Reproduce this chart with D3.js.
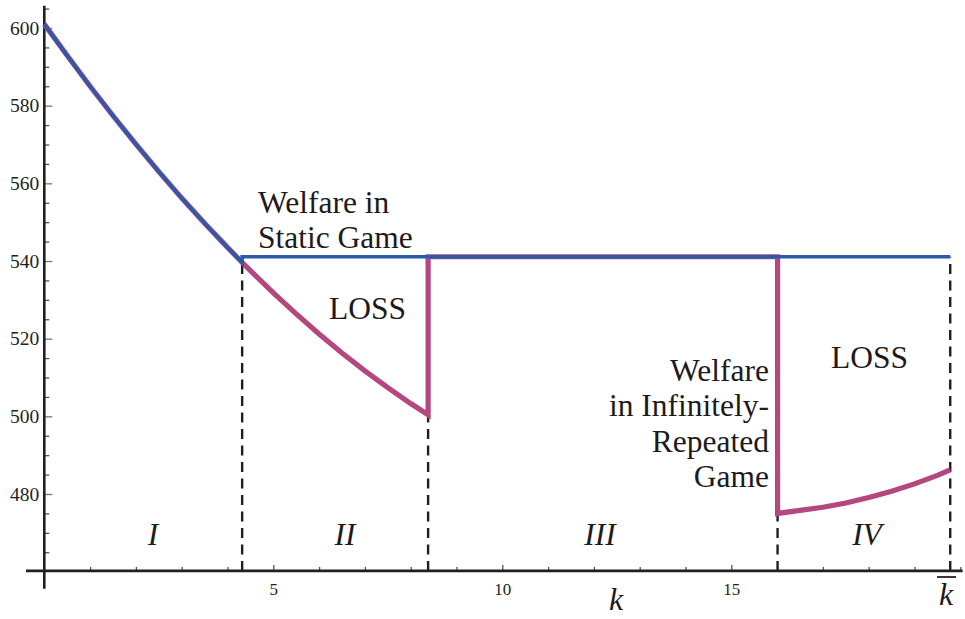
<!DOCTYPE html>
<html><head><meta charset="utf-8">
<script src="https://cdn.jsdelivr.net/npm/d3@7"></script>
<style>
body{margin:0;background:#fff}
svg{display:block}
</style>
</head><body>
<svg id="chart" width="965" height="619"></svg>
<script>
// ---- data ----
const xTicksMajor = [5, 10, 15];
const xTicksMinor = [1, 2, 3, 4, 6, 7, 8, 9, 11, 12, 13, 14, 16, 17, 18, 19, 20];
const yTicksMajor = [480, 500, 520, 540, 560, 580, 600];
const yTicksMinor = [465, 470, 475, 485, 490, 495, 505, 510, 515, 525, 530, 535, 545, 550, 555, 565, 570, 575, 585, 590, 595, 605];
const regimeBounds = [4.32, 8.38, 16.01, 19.78];
const regimeLabels = ["I", "II", "III", "IV"];
const staticWelfare = 541.1;
// welfare in infinitely-repeated game, region I (coincides with static)
const curveI = [[0, 601.0], [0.5, 592.9], [1, 585.0], [1.5, 577.4], [2, 570.1], [2.5, 563.0], [3, 556.2], [3.5, 549.7], [4, 543.5], [4.32, 539.6]];
// region II
const curveII = [[4.32, 539.6], [4.5, 537.5], [5, 531.8], [5.5, 526.4], [6, 521.2], [6.5, 516.3], [7, 511.7], [7.5, 507.4], [8, 503.3], [8.38, 500.4]];
// region IV
const curveIV = [[16.01, 475.0], [16.5, 475.8], [17, 476.6], [17.5, 477.7], [18, 479.1], [18.5, 480.7], [19, 482.6], [19.5, 484.8], [19.78, 486.2]];
const axisOriginY = 460.2;

const FONT = '"Liberation Serif", "Times New Roman", Times, "DejaVu Serif", serif';

// ---- scales ----
const x = d3.scaleLinear().domain([0, 20]).range([44.3, 960.3]);
const y = d3.scaleLinear().domain([480, 600]).range([494, 28]);
const svg = d3.select("#chart");
const y0 = y(axisOriginY);

// ---- axes ----
const axCol = "#231f20";
function styleAxis(g, col) {
  g.attr("font-family", null);
  g.select(".domain").remove();
  g.selectAll(".tick line").attr("stroke", col).attr("stroke-width", 1.3);
  g.selectAll(".tick text").attr("fill", "#231f20").attr("font-family", FONT).style("font-family", FONT);
}
const gyMinor = svg.append("g").attr("transform", `translate(${x(0)},0)`)
  .call(d3.axisLeft(y).tickValues(yTicksMinor).tickSize(-5).tickFormat(() => ""));
styleAxis(gyMinor, "#555");
const gy = svg.append("g").attr("transform", `translate(${x(0)},0)`)
  .call(d3.axisLeft(y).tickValues(yTicksMajor).tickSize(-8).tickPadding(5));
styleAxis(gy, "#777");
gy.selectAll(".tick text").style("font-size", "19.5px");

const gxMinor = svg.append("g").attr("transform", `translate(0,${y0})`)
  .call(d3.axisBottom(x).tickValues(xTicksMinor).tickSize(-4).tickFormat(() => ""));
styleAxis(gxMinor, "#555");
const gx = svg.append("g").attr("transform", `translate(0,${y0})`)
  .call(d3.axisBottom(x).tickValues(xTicksMajor).tickSize(-6).tickPadding(12));
styleAxis(gx, "#555");
gx.selectAll(".tick text").style("font-size", "17px");

// axis lines (extend past the origin as in the reference)
svg.append("line").attr("x1", x(-0.4)).attr("x2", x(20.05)).attr("y1", y0).attr("y2", y0)
  .attr("stroke", axCol).attr("stroke-width", 2.6);
svg.append("line").attr("x1", x(0)).attr("x2", x(0)).attr("y1", y(605.7)).attr("y2", y(455.6))
  .attr("stroke", axCol).attr("stroke-width", 2.6);

// ---- dashed regime boundaries ----
const dashTops = [curveI[curveI.length - 1][1], curveII[curveII.length - 1][1], curveIV[0][1], staticWelfare];
svg.append("g").selectAll("line").data(regimeBounds).join("line")
  .attr("x1", d => x(d)).attr("x2", d => x(d))
  .attr("y1", y0).attr("y2", (d, i) => y(dashTops[i]))
  .attr("stroke", "#231f20").attr("stroke-width", 2.4).attr("stroke-dasharray", "10,6.5");

// ---- lines ----
const line = d3.line().x(d => x(d[0])).y(d => y(d[1]));
const repeated = curveI.concat(curveII.slice(1), [[regimeBounds[1], staticWelfare], [regimeBounds[2], staticWelfare]], curveIV);
const statik = curveI.concat([[regimeBounds[0], staticWelfare], [regimeBounds[3], staticWelfare]]);
svg.append("path").attr("d", line(repeated)).attr("fill", "none")
  .attr("stroke", "#b5477f").attr("stroke-width", 5.2).attr("stroke-linejoin", "miter");
svg.append("path").attr("d", line(statik)).attr("fill", "none")
  .attr("stroke", "#2a5bab").attr("stroke-width", 3.6).attr("stroke-linejoin", "miter");

// ---- labels ----
function txt(s, px, py, size, anchor, italic) {
  svg.append("text").attr("x", px).attr("y", py).attr("text-anchor", anchor || "start")
    .attr("fill", "#1e1a1b").attr("font-family", FONT)
    .style("font-family", FONT)
    .style("font-size", size + "px").style("font-style", italic ? "italic" : "normal").text(s);
}
txt("Welfare in", 258, 213, 31.5);
txt("Static Game", 258, 248, 31.5);
txt("LOSS", 329, 319, 31.5);
txt("LOSS", 831, 368, 31.5);
["Welfare", "in Infinitely-", "Repeated", "Game"].forEach((s, i) => txt(s, 769, 381 + i * 35.3, 31.5, "end"));
const romanX = [153, 345, 600, 867];
regimeLabels.forEach((s, i) => txt(s, romanX[i], 545, 31.5, "middle", true));
txt("k", 616, 610, 32, "middle", true);
txt("k", 946, 605, 32, "middle", true);
svg.append("line").attr("x1", 937).attr("x2", 956).attr("y1", 577).attr("y2", 577)
  .attr("stroke", "#231f20").attr("stroke-width", 1.8);
</script>
</body></html>
